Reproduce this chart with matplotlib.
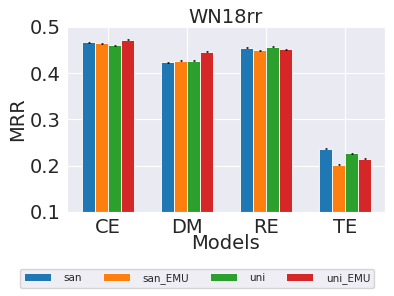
import numpy as np
import matplotlib
matplotlib.use('Agg')
import matplotlib.pyplot as plt
import seaborn as sns

sns.set_style('darkgrid')

models = ['CE', 'DM', 'RE', 'TE']
series = ['san', 'san_EMU', 'uni', 'uni_EMU']
san = [0.467, 0.424, 0.455, 0.237]
san_emu = [0.465, 0.427, 0.450, 0.202]
uni = [0.460, 0.427, 0.457, 0.227]
uni_emu = [0.472, 0.446, 0.452, 0.215]
errs = [0.001, 0.001, 0.001, 0.001]

values = [san, san_emu, uni, uni_emu]
colors = ['#1f77b4', '#ff7f0e', '#2ca02c', '#d62728']

fig = plt.figure(figsize=(3.94, 2.96), dpi=100)
ax = fig.add_axes([0.170, 0.284, 0.807, 0.625])

x = np.arange(len(models))
w = 0.165
for i, (name, vals) in enumerate(zip(series, values)):
	ax.bar(x + (i - 1.5) * w, vals, width=w, color=colors[i], label=name,
		edgecolor='white', linewidth=0.6,
		yerr=errs, error_kw=dict(ecolor='black', elinewidth=0.5, capsize=0.8, capthick=0.5))

ax.set_xlim(-0.52, 3.5)
ax.set_ylim(0.1, 0.5)
ax.set_yticks([0.1, 0.2, 0.3, 0.4, 0.5])
ax.set_xticks(x)
ax.set_xticklabels(models)
ax.tick_params(axis='both', labelsize=14, pad=1)
ax.set_ylabel('MRR', fontsize=14, labelpad=2)
ax.set_xlabel('Models', fontsize=14, labelpad=-2)
ax.set_title('WN18rr', fontsize=14, pad=3)

fig.legend(loc='lower center', bbox_to_anchor=(0.5, 0.01), ncol=4, fontsize=7.5,
	frameon=True, handlelength=2.6, columnspacing=2.0, handletextpad=1.2)

fig.savefig('out.png', dpi=100)
